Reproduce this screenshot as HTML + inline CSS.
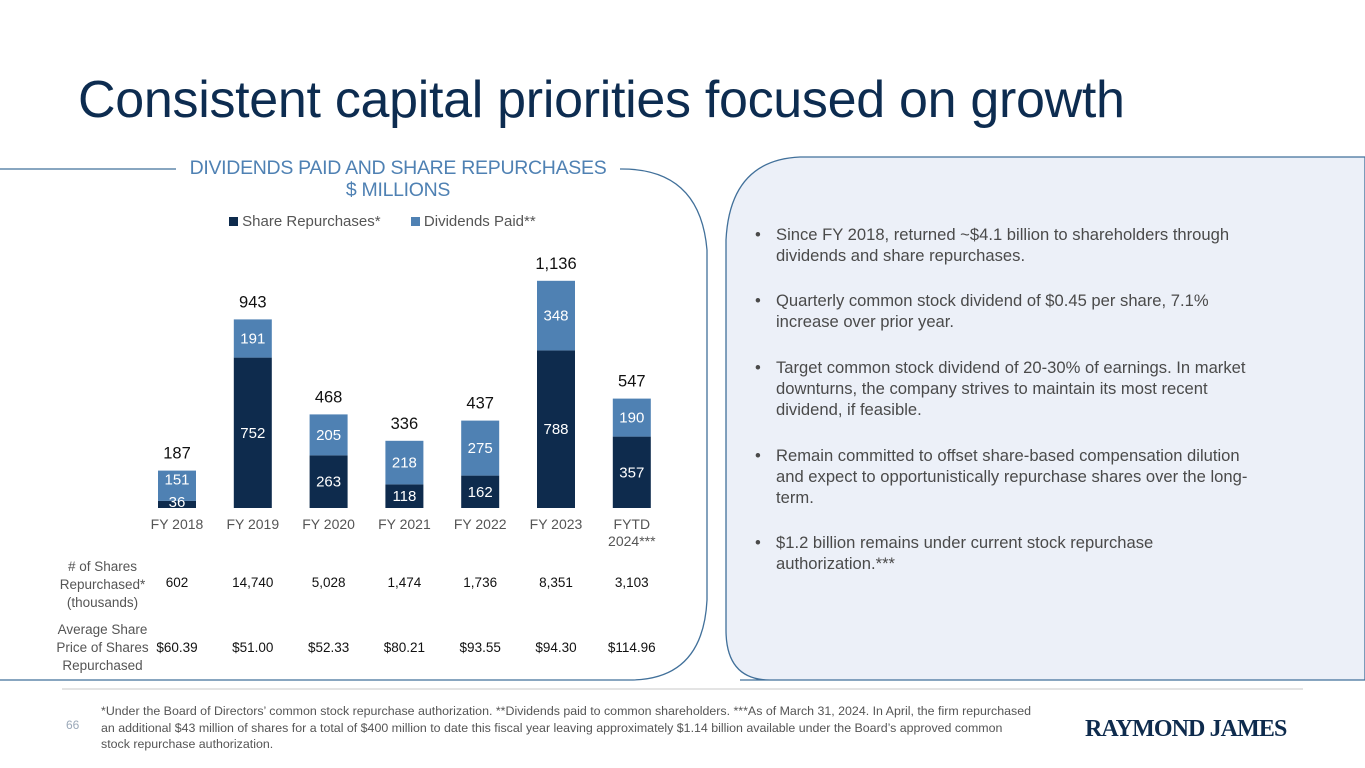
<!DOCTYPE html>
<html><head><meta charset="utf-8">
<style>
body{margin:0;width:1365px;height:768px;overflow:hidden;background:#fff;font-family:"Liberation Sans",sans-serif;position:relative}
.abs{position:absolute}
h1{position:absolute;left:78px;top:70px;margin:0;font-weight:normal;font-size:52px;color:#0d2c50;letter-spacing:-0.3px}
.bul{position:absolute;left:755px;width:505px;font-size:16.6px;line-height:21px;color:#4a4a4a}
.bul span.d{position:absolute;left:0}
.bul div.t{margin-left:21px}
</style></head><body>
<h1>Consistent capital priorities focused on growth</h1>
<svg class="abs" style="left:0;top:0" width="1365" height="768">
  <path d="M740 680 L1365 680 L1365 157 L800 157 Q730 160 726 240 L726 630 Q726 680 770 680 Z" fill="#ecf0f8" stroke="#41709a" stroke-width="1.3"/>
  <path d="M0 169 L176 169 M620 169 Q700 168 707 250 L707 600 Q703 680 630 680 L0 680" fill="none" stroke="#41709a" stroke-width="1.3"/>
  <line x1="62" y1="689" x2="1303" y2="689" stroke="#e4e4e4" stroke-width="2"/>
</svg>
<div class="abs" style="left:150px;top:157px;width:496px;text-align:center;color:#4f81b3;font-size:19.5px;line-height:22px;letter-spacing:-0.3px">DIVIDENDS PAID AND SHARE REPURCHASES<br>$ MILLIONS</div>
<div class="abs" style="left:229px;top:213px;font-size:15px;color:#555">
<span><span style="display:inline-block;width:9px;height:9px;background:#0e2b4d"></span> Share Repurchases*</span>
<span style="margin-left:26px"><span style="display:inline-block;width:9px;height:9px;background:#4f81b3"></span> Dividends Paid**</span>
</div>
<svg id="chart" class="abs" style="left:0;top:0" width="720" height="680"></svg>
<div class="abs" style="left:50px;top:558px;width:105px;text-align:center;font-size:13.5px;line-height:18px;color:#555"># of Shares Repurchased* (thousands)</div>
<div class="abs" style="left:50px;top:621px;width:105px;text-align:center;font-size:13.5px;line-height:18px;color:#555">Average Share Price of Shares Repurchased</div>
<div class="bul" style="top:224px"><span class="d">•</span><div class="t">Since FY 2018, returned ~$4.1 billion to shareholders through dividends and share repurchases.</div></div>
<div class="bul" style="top:290px"><span class="d">•</span><div class="t">Quarterly common stock dividend of $0.45 per share, 7.1% increase over prior year.</div></div>
<div class="bul" style="top:357px"><span class="d">•</span><div class="t">Target common stock dividend of 20-30% of earnings. In market downturns, the company strives to maintain its most recent dividend, if feasible.</div></div>
<div class="bul" style="top:445px"><span class="d">•</span><div class="t">Remain committed to offset share-based compensation dilution and expect to opportunistically repurchase shares over the long-term.</div></div>
<div class="bul" style="top:532px"><span class="d">•</span><div class="t">$1.2 billion remains under current stock repurchase authorization.***</div></div>
<div class="abs" style="left:66px;top:718px;font-size:12px;color:#9aa8b8">66</div>
<div class="abs" style="left:101px;top:703px;width:932px;font-size:12.4px;line-height:16.5px;color:#555">*Under the Board of Directors’ common stock repurchase authorization. **Dividends paid to common shareholders. ***As of March 31, 2024. In April, the firm repurchased an additional $43 million of shares for a total of $400 million to date this fiscal year leaving approximately $1.14 billion available under the Board’s approved common stock repurchase authorization.</div>
<div class="abs" style="left:1085px;top:716px;font-family:'Liberation Serif',serif;font-weight:bold;font-size:24px;color:#0e2b4d;letter-spacing:-0.9px">RAYMOND JAMES</div>
<script>
const categories=["FY 2018","FY 2019","FY 2020","FY 2021","FY 2022","FY 2023","FYTD|2024***"];
const repurchases=[36,752,263,118,162,788,357];
const dividends=[151,191,205,218,275,348,190];
const totals=["187","943","468","336","437","1,136","547"];
const sharesRepurchased=["602","14,740","5,028","1,474","1,736","8,351","3,103"];
const avgPrice=["$60.39","$51.00","$52.33","$80.21","$93.55","$94.30","$114.96"];
const svg=document.getElementById('chart');const NS='http://www.w3.org/2000/svg';
const base=508,k=0.2,x0=177,step=75.8,bw=38;
const X=i=>x0+i*step, Y=v=>base-v*k;
function mk(t,a){const e=document.createElementNS(NS,t);for(const n in a)e.setAttribute(n,a[n]);svg.appendChild(e);return e;}
function txt(x,y,s,size,fill,name){const e=mk('text',{x:x,y:y,'text-anchor':'middle','font-size':size,fill:fill,'font-family':'Liberation Sans, sans-serif'});e.textContent=s;

return e;}
categories.forEach((c,i)=>{
 const cx=X(i),r=repurchases[i],d=dividends[i];
 const b1=mk('rect',{x:cx-bw/2,y:Y(r),width:bw,height:r*k,fill:'#0e2b4d'});
 
 
 const b2=mk('rect',{x:cx-bw/2,y:Y(r+d),width:bw,height:d*k,fill:'#4f81b3'});
 
 
 const ry=r*k<20?base-1:(Y(r)+base)/2+5;
 txt(cx,ry,String(r),15,'#fff','value-repurchases');
 txt(cx,(Y(r+d)+Y(r))/2+(r*k<20?-1:5),String(d),15,'#fff','value-dividends');
 txt(cx,Y(r+d)-12,totals[i],16.5,'#111','value-total');
 const parts=c.split('|');
 parts.forEach((p,j)=>txt(cx,529+j*17,p,14,'#555','x-label'));
 txt(cx,587,sharesRepurchased[i],13.5,'#111','shares-value');
 txt(cx,652,avgPrice[i],13.5,'#111','price-value');
});
</script>
</body></html>
